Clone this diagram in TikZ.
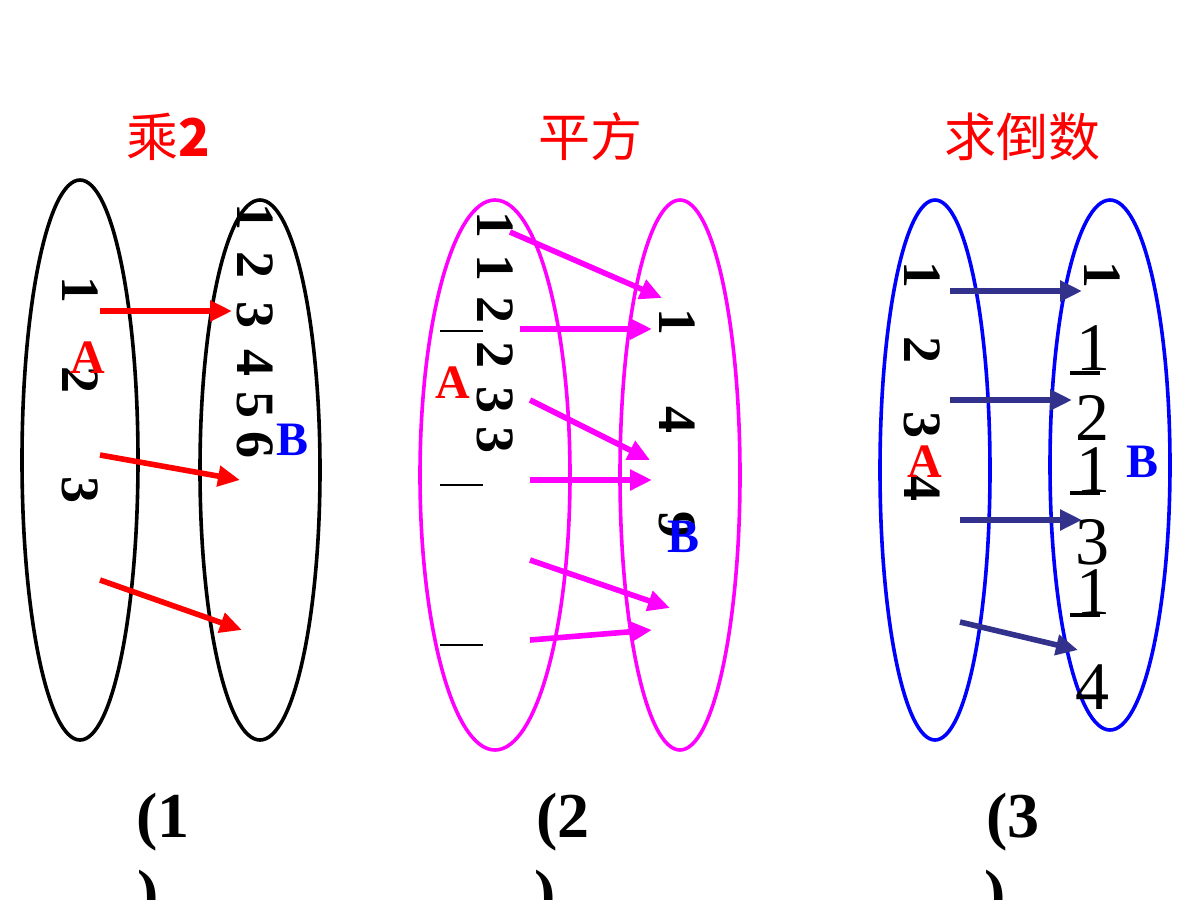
\documentclass[tikz,border=0pt]{standalone}
\usepackage{fontspec}
\setmainfont{Liberation Serif}
\newfontfamily\cjk{Noto Sans CJK SC}
\usetikzlibrary{arrows.meta}
\definecolor{navy}{RGB}{50,50,140}
\definecolor{mag}{RGB}{255,0,255}
\begin{document}
\begin{tikzpicture}[x=0.5pt,y=-0.5pt,
  dig/.style={font=\fontsize{27}{27}\selectfont\bfseries,rotate=-90,inner sep=0pt},
  frac/.style={font=\fontsize{34}{34}\selectfont,inner sep=0pt},
  lab/.style={font=\fontsize{24}{24}\selectfont\bfseries,inner sep=0pt},
  ttl/.style={font=\fontsize{26}{26}\selectfont\cjk,text=red,inner sep=0pt},
  num/.style={font=\fontsize{32}{32}\selectfont\bfseries,inner sep=0pt},
  arr/.style={line width=2.8pt,-{Triangle[length=11pt,width=10pt]}},
  ell/.style={line width=1.8pt}]
\useasboundingbox (0,0) rectangle (1200,900);
% panel 1
\draw[ell] (80,460) ellipse [x radius=58,y radius=280];
\draw[ell] (260,470) ellipse [x radius=60,y radius=270];
\node[ttl] (t1) at (168,137) {乘\textbf{2}};
\foreach \n/\y in {1/290,2/380,3/490}{\node[dig] (l1\n) at (80,\y) {\n};}
\foreach \n/\y in {1/217,2/265,3/315,4/363,5/405,6/445}{\node[dig] (r1\n) at (255,\y) {\n};}
\node[lab,text=red] (A1) at (88,358) {A};
\node[lab,text=blue] (B1) at (293,440) {B};
\coordinate (a1s) at (100,311); \coordinate (a1e) at (232,311);
\coordinate (a2s) at (100,455); \coordinate (a2e) at (240,480);
\coordinate (a3s) at (100,580); \coordinate (a3e) at (242,630);
\draw[arr,red] (a1s) -- (a1e);
\draw[arr,red] (a2s) -- (a2e);
\draw[arr,red] (a3s) -- (a3e);
% panel 2
\draw[ell,mag] (495,475) ellipse [x radius=75,y radius=275];
\draw[ell,mag] (680,475) ellipse [x radius=60,y radius=275];
\node[ttl] (t2) at (590,137) {平方};
\foreach \n/\t/\y in {a/1/225,b/1/268,c/2/310,d/2/355,e/3/400,f/3/440}{\node[dig] (l2\n) at (495,\y) {\t};}
\draw[line width=1pt] (440,331) -- (483,331) (440,485) -- (483,485) (440,645) -- (483,645);
\node[lab,text=red] (A2) at (453,383) {A};
\node[dig] (r21) at (677,322) {1};
\node[dig] (r24) at (677,420) {4};
\node[dig] (r29) at (677,525) {9};
\node[lab,text=blue] (B2) at (684,537) {B};
\foreach \i/\sx/\sy/\ex/\ey in {1/510/232/662/298,2/520/329/652/329,3/530/400/650/460,4/530/480/652/480,5/530/560/670/608,6/530/640/652/630}{
  \coordinate (m\i s) at (\sx,\sy); \coordinate (m\i e) at (\ex,\ey);
  \draw[arr,mag] (m\i s) -- (m\i e);}
% panel 3
\draw[ell,blue] (935,470) ellipse [x radius=55,y radius=270];
\draw[ell,blue] (1110,465) ellipse [x radius=60,y radius=265];
\node[ttl] (t3) at (1022,137) {求倒数};
\foreach \n/\y in {1/275,2/350,3/425,4/488}{\node[dig] (l3\n) at (922,\y) {\n};}
\node[lab,text=red] (A3) at (925,462) {A};
\node[dig] (r31) at (1102,275) {1};
\foreach \d/\yn/\yb/\yd in {2/348/373/418,3/470/493/542,4/592/615/687}{
  \node[frac] (n\d) at (1093,\yn) {1};
  \draw[line width=2pt] (1070,\yb) -- (1100,\yb);
  \node[frac] (d\d) at (1092,\yd) {\d};}
\node[lab,text=blue] (B3) at (1142,462) {B};
\foreach \i/\sx/\sy/\ex/\ey in {1/950/291/1082/291,2/950/400/1072/400,3/960/520/1082/520,4/960/622/1078/650}{
  \coordinate (n\i s) at (\sx,\sy); \coordinate (n\i e) at (\ex,\ey);
  \draw[arr,navy] (n\i s) -- (n\i e);}
% bottom labels
\node[num] (p1) at (163,822) {(1};
\node[num] (p2) at (563,822) {(2};
\node[num] (p3) at (1013,822) {(3};
\node[num,anchor=north] (q1) at (148,870) {)};
\node[num,anchor=north] (q2) at (545,870) {)};
\node[num,anchor=north] (q3) at (995,870) {)};
\end{tikzpicture}
\end{document}
